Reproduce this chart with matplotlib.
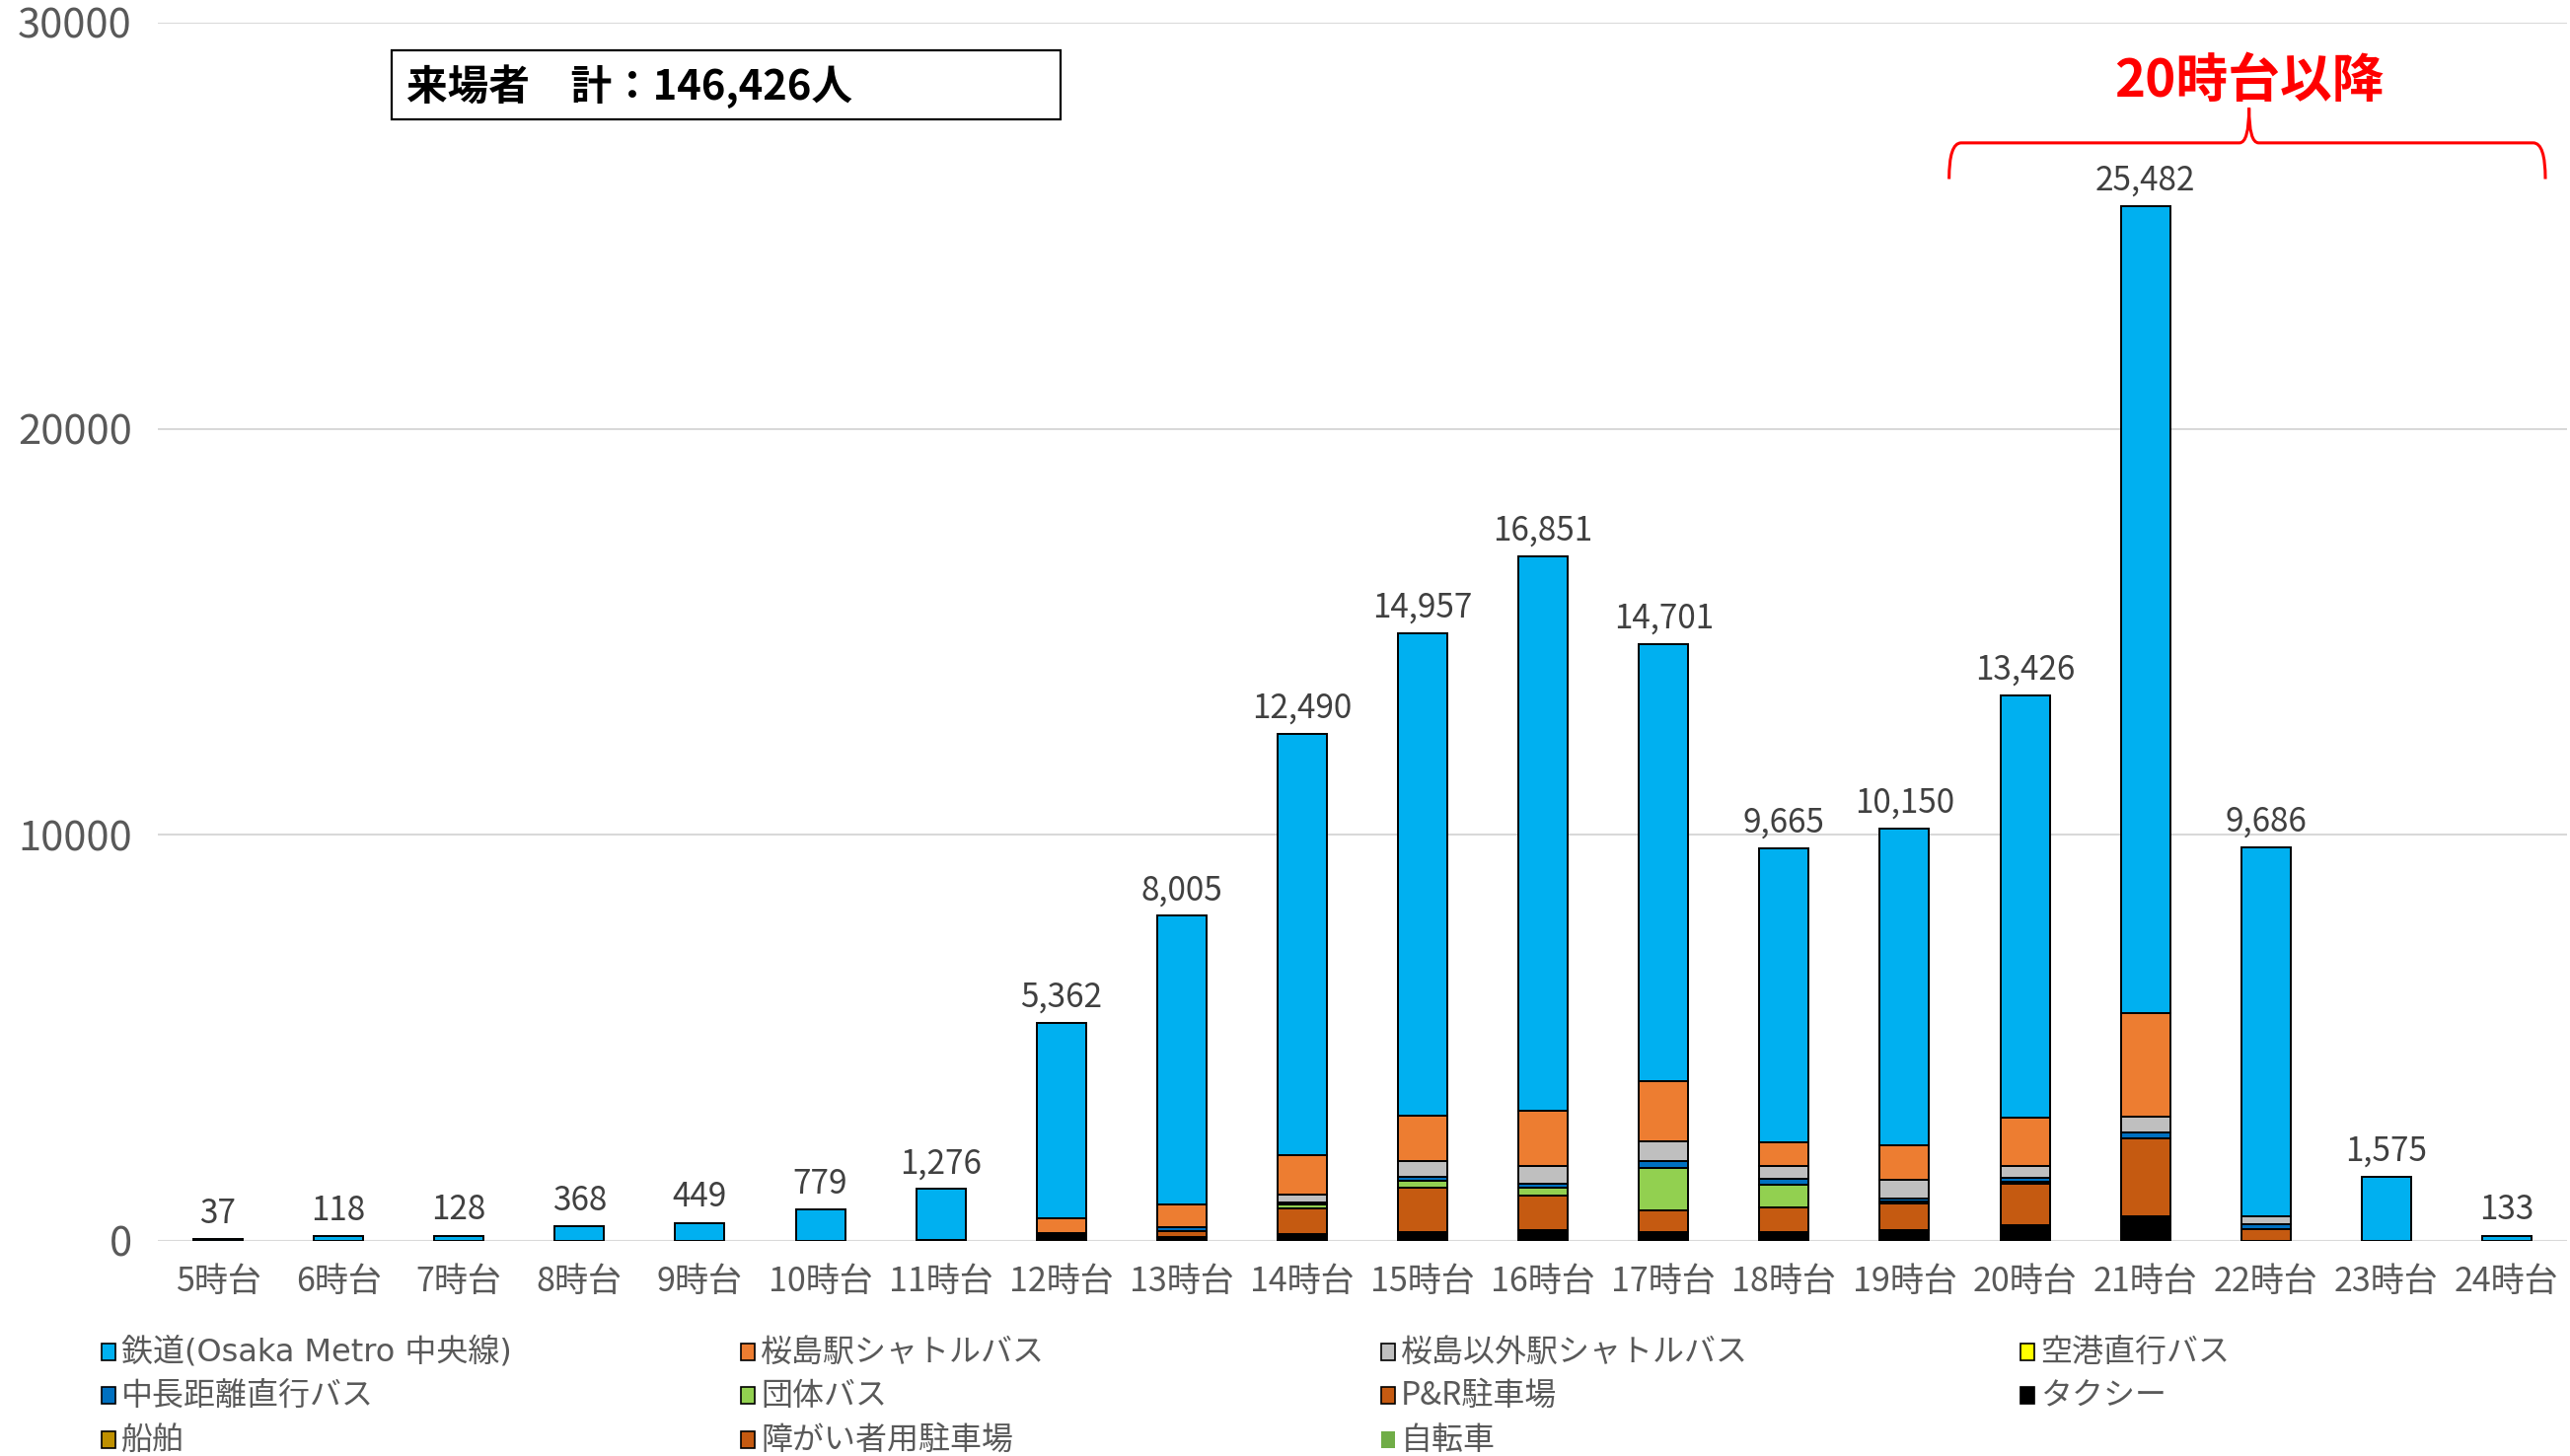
"""Hourly visitor arrivals by transport mode (stacked columns)."""
import numpy as np
import matplotlib
matplotlib.use("Agg")
import matplotlib.pyplot as plt
from matplotlib.patches import Rectangle, PathPatch
from matplotlib.path import Path

plt.rcParams["font.family"] = ["Noto Sans CJK JP", "DejaVu Sans"]

hours = [f"{h}時台" for h in range(5, 25)]

# stacked bottom -> top
rail       = [37, 118, 128, 368, 449, 779, 1246, 4807, 7114, 10384, 11862, 13652, 10755, 7234, 7784, 10387, 19869, 9077, 1575, 133]
sakura     = [0, 0, 0, 0, 0, 0, 0, 365, 543, 956, 1134, 1361, 1499, 583, 867, 1191, 2550, 0, 0, 0]
other_stn  = [0, 0, 0, 0, 0, 0, 0, 0, 0, 194, 381, 421, 486, 324, 462, 284, 389, 203, 0, 0]
airport    = [0] * 20
longdist   = [0, 0, 0, 0, 0, 0, 0, 0, 105, 65, 105, 97, 162, 146, 73, 106, 146, 122, 0, 0]
group_bus  = [0, 0, 0, 0, 0, 0, 0, 0, 0, 81, 154, 211, 1045, 543, 49, 40, 0, 0, 0, 0]
bicycle    = [0] * 20
ship       = [0] * 20
park_ride  = [0, 0, 0, 0, 0, 0, 0, 0, 138, 648, 1102, 842, 535, 608, 648, 1029, 1920, 284, 0, 0]
taxi       = [0, 0, 0, 0, 0, 0, 30, 150, 105, 162, 219, 267, 219, 227, 267, 389, 608, 0, 0, 0]
disabled   = [0, 0, 0, 0, 0, 0, 0, 40, 0, 0, 0, 0, 0, 0, 0, 0, 0, 0, 0, 0]

series = [
    ("障がい者用駐車場", disabled, "#C55A11"),
    ("タクシー", taxi, "#000000"),
    ("P&R駐車場", park_ride, "#C55A11"),
    ("船舶", ship, "#BF9000"),
    ("自転車", bicycle, "#70AD47"),
    ("団体バス", group_bus, "#92D050"),
    ("中長距離直行バス", longdist, "#0070C0"),
    ("空港直行バス", airport, "#FFFF00"),
    ("桜島以外駅シャトルバス", other_stn, "#BFBFBF"),
    ("桜島駅シャトルバス", sakura, "#ED7D31"),
    ("鉄道(Osaka Metro 中央線)", rail, "#00B0F0"),
]
colors = {name: c for name, _, c in series}

legend_order = ["鉄道(Osaka Metro 中央線)", "桜島駅シャトルバス", "桜島以外駅シャトルバス", "空港直行バス",
                "中長距離直行バス", "団体バス", "P&R駐車場", "タクシー",
                "船舶", "障がい者用駐車場", "自転車"]

W, H = 2605, 1476
fig = plt.figure(figsize=(W / 100, H / 100), dpi=100)
ax = fig.add_axes([160 / W, 1 - 1258 / H, 2442 / W, (1258 - 23) / H])

x = np.arange(len(hours))
bottom = np.zeros(len(hours))
for name, vals, col in series:
    vals = np.array(vals, dtype=float)
    ax.bar(x, vals, 0.41, bottom=bottom, color=col, edgecolor="black", linewidth=1.4, zorder=3)
    bottom += vals

for xi, tot in zip(x, bottom):
    ax.annotate(f"{int(tot):,}", (xi, tot), xytext=(0, 6), textcoords="offset points",
                ha="center", va="bottom", fontsize=24, color="#404040")

ax.set_xlim(-0.5, len(hours) - 0.5)
ax.set_ylim(0, 30000)
ax.set_yticks([0, 10000, 20000, 30000])
ax.set_yticklabels(["0", "10000", "20000", "30000"])
ax.set_xticks(x)
ax.set_xticklabels(hours)
ax.tick_params(axis="y", length=0, pad=19, labelsize=30, labelcolor="#595959")
ax.tick_params(axis="x", length=0, pad=17, labelsize=24.5, labelcolor="#595959")
ax.grid(axis="y", color="#D9D9D9", linewidth=1.5, zorder=0)
for s in ax.spines.values():
    s.set_visible(False)

# total box
fig.patches.append(Rectangle((397 / W, 1 - 121 / H), 678 / W, 70 / H, transform=fig.transFigure,
                             facecolor="white", edgecolor="black", linewidth=1.6))
fig.text(412 / W, 1 - 88 / H, "来場者　計：146,426人", fontsize=30, fontweight="bold",
         color="black", va="center", ha="left")

# brace over 20時台 onwards
xl, xr, xm = 14.37, 19.32, 16.86
yb, yh, yt = 26150, 27040, 27900
verts = [(xl, yb), (xl, yh), (xl + 0.1, yh), (xm - 0.08, yh), (xm, yh), (xm, yt),
         (xm, yh), (xm + 0.08, yh), (xr - 0.1, yh), (xr, yh), (xr, yb)]
codes = [Path.MOVETO, Path.CURVE3, Path.CURVE3, Path.LINETO, Path.CURVE3, Path.CURVE3,
         Path.CURVE3, Path.CURVE3, Path.LINETO, Path.CURVE3, Path.CURVE3]
ax.add_patch(PathPatch(Path(verts, codes), facecolor="none", edgecolor="red", linewidth=2.2,
                       zorder=5, clip_on=False))
ax.text(xm, 28550, "20時台以降", color="red", fontsize=38, fontweight="bold",
        ha="center", va="center")

# legend
col_x = [103, 751, 1400, 2048]
row_y = [1371, 1415, 1460]
for i, name in enumerate(legend_order):
    r, c = divmod(i, 4)
    mx, my = col_x[c], row_y[r]
    ec = "none" if name == "自転車" else "black"
    fig.patches.append(Rectangle((mx / W, 1 - (my + 8) / H), 14 / W, 17 / H, transform=fig.transFigure,
                                 facecolor=colors[name], edgecolor=ec, linewidth=1.2))
    fam = ["DejaVu Sans", "Noto Sans CJK JP"] if "Osaka" in name else None
    fig.text((mx + 20) / W, 1 - my / H, name, fontsize=23, color="#595959", va="center", ha="left",
             family=fam)

fig.savefig("out.png", dpi=100)
